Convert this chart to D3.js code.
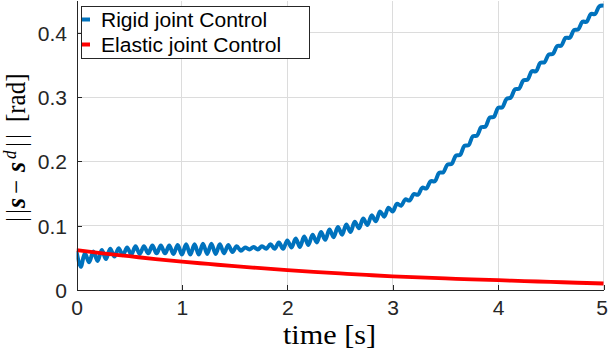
<!DOCTYPE html>
<html><head><meta charset="utf-8">
<script src="https://cdn.jsdelivr.net/npm/d3@7"></script>
<style>html,body{margin:0;padding:0;background:#fff}svg{display:block}</style>
</head><body>
<svg id="chart" width="608" height="354"></svg>
<script>
// ---- data ----
const rigidTimeStep = 0.04; // seconds between samples, t = 0 ... 5
const rigidValues = [
0.060,0.036,0.057,0.043,0.060,0.045,0.062,0.048,0.064,0.052,
0.065,0.054,0.066,0.055,0.068,0.056,0.068,0.057,0.069,0.057,
0.069,0.057,0.069,0.056,0.070,0.055,0.071,0.055,0.071,0.055,
0.072,0.056,0.072,0.056,0.071,0.057,0.070,0.059,0.068,0.061,
0.066,0.063,0.067,0.063,0.068,0.064,0.071,0.064,0.074,0.064,
0.077,0.066,0.080,0.067,0.083,0.070,0.086,0.074,0.090,0.078,
0.094,0.082,0.098,0.086,0.102,0.090,0.106,0.096,0.111,0.101,
0.116,0.107,0.122,0.114,0.128,0.122,0.134,0.131,0.141,0.139,
0.149,0.148,0.159,0.158,0.169,0.169,0.182,0.183,0.195,0.196,
0.209,0.210,0.224,0.225,0.239,0.240,0.253,0.254,0.268,0.269,
0.283,0.284,0.297,0.299,0.312,0.313,0.326,0.327,0.340,0.340,
0.353,0.354,0.366,0.367,0.379,0.380,0.392,0.392,0.404,0.405,
0.417,0.417,0.429,0.429,0.441,0.442
];
const elasticTimes = [0,0.25,0.5,0.75,1,1.25,1.5,1.75,2,2.25,2.5,2.75,3,3.25,3.5,3.75,4,4.25,4.5,4.75,5];
const elasticValues = [0.0620,0.0570,0.0525,0.0480,0.0440,0.0405,0.0370,0.0340,0.0310,0.0283,0.0258,0.0234,0.0212,0.0195,0.0180,0.0165,0.0152,0.0139,0.0126,0.0113,0.0101];
const seriesNames = ["Rigid joint Control","Elastic joint Control"];
const seriesColors = ["#0072BD","#FF0000"];
const xTicks = [0,1,2,3,4,5];
const yTicks = [0,0.1,0.2,0.3,0.4];
const xDomain = [0,5];
const yDomain = [0,0.45];
const xLabel = "time [s]";

// ---- layout ----
const X0 = 76.5, X1 = 603.5, Y0 = 290, Y1 = 0.5;
const axisColor = "#262626", gridColor = "#dcdcdc";
const sx = 1.08; // horizontal text stretch of the original figure

const svg = d3.select("#chart");
const x = d3.scaleLinear().domain(xDomain).range([X0, X1]);
const y = d3.scaleLinear().domain(yDomain).range([Y0, Y1]);

// grid
const grid = svg.append("g").attr("shape-rendering","crispEdges");
grid.selectAll("line.gx").data(xTicks.filter(d=>d>0)).join("line")
  .attr("x1",d=>x(d)).attr("x2",d=>x(d)).attr("y1",Y1).attr("y2",Y0)
  .attr("stroke",gridColor).attr("stroke-width",1);
grid.selectAll("line.gy").data(yTicks.filter(d=>d>0)).join("line")
  .attr("x1",X0).attr("x2",X1+0.5).attr("y1",d=>y(d)).attr("y2",d=>y(d))
  .attr("stroke",gridColor).attr("stroke-width",1);

// clip
svg.append("clipPath").attr("id","clip").append("rect")
  .attr("x",X0).attr("y",0).attr("width",X1-X0+1).attr("height",Y0);

const rigid = rigidValues.map((v,i)=>({t:i*rigidTimeStep, v}));
const elastic = elasticValues.map((v,i)=>({t:elasticTimes[i], v}));

const line = d3.line().x(d=>x(d.t)).y(d=>y(d.v)).curve(d3.curveCatmullRom.alpha(0.5));
const lineLin = d3.line().x(d=>x(d.t)).y(d=>y(d.v)).curve(d3.curveMonotoneX);

const plot = svg.append("g").attr("clip-path","url(#clip)");
plot.append("path").datum(rigid).attr("d",line)
  .attr("fill","none").attr("stroke",seriesColors[0]).attr("stroke-width",4)
  .attr("stroke-linejoin","round");
plot.append("path").datum(elastic).attr("d",lineLin)
  .attr("fill","none").attr("stroke",seriesColors[1]).attr("stroke-width",3.8);

// axes
function stretchLabels(g, lastShift){
  const texts = g.selectAll(".tick text");
  const n = texts.size();
  texts.each(function(d,i){
    const t = d3.select(this);
    let tx = +t.attr("x") || 0;
    const ty = +t.attr("y") || 0;
    if (lastShift && i === n-1) tx += lastShift;
    t.attr("x",0).attr("y",0)
     .attr("transform",`translate(${tx},${ty}) scale(${sx},1)`);
  });
}
const yAxis = d3.axisLeft(y).tickValues(yTicks).tickFormat(d=>d===0?"0":d3.format(".1f")(d))
  .tickSizeInner(-5).tickSizeOuter(0).tickPadding(9.5);
const gy = svg.append("g").attr("transform",`translate(${X0},0)`).call(yAxis);
gy.selectAll(".tick text").attr("dy","0.38em");
stretchLabels(gy, 0);

const xAxis = d3.axisBottom(x).tickValues(xTicks).tickFormat(d3.format("d"))
  .tickSizeInner(-5).tickSizeOuter(0).tickPadding(11.5);
const gx = svg.append("g").attr("transform",`translate(0,${Y0})`).call(xAxis);
stretchLabels(gx, -2);

[gx,gy].forEach(g=>{
  g.selectAll("path.domain").attr("stroke",axisColor).attr("stroke-width",1).attr("shape-rendering","crispEdges");
  g.selectAll(".tick line").attr("stroke",axisColor).attr("shape-rendering","crispEdges");
  g.selectAll(".tick text").attr("fill",axisColor)
    .attr("font-family","'Liberation Sans', Arial, sans-serif").attr("font-size","19.5px");
});

// x label
svg.append("text").attr("transform","translate(329.5,344) scale(1.12,1)")
  .attr("text-anchor","middle").attr("font-family","'Liberation Serif', 'Times New Roman', serif")
  .attr("font-size","27px").attr("fill","#000").text(xLabel);

// y label pieces (rotated)
const yl = svg.append("g").attr("transform","translate(25,222) rotate(-90) scale(1,1.08)")
  .attr("font-family","'Liberation Serif', 'Times New Roman', serif").attr("font-size","25px").attr("fill","#000");
yl.append("text").attr("x",0).attr("letter-spacing","3px").text("||");
yl.append("text").attr("x",14).attr("font-weight","bold").attr("font-style","italic").attr("font-size","26px").text("s");
yl.append("text").attr("x",28).text("\u2212");
yl.append("text").attr("x",50).attr("font-weight","bold").attr("font-style","italic").attr("font-size","26px").text("s");
yl.append("text").attr("x",63).attr("y",-8).attr("font-size","17px").attr("font-style","italic").text("d");
yl.append("text").attr("x",75).attr("letter-spacing","3px").text("||");
yl.append("text").attr("x",100).text("[rad]");

// legend
const lg = svg.append("g");
lg.append("rect").attr("x",81.5).attr("y",6.5).attr("width",227.5).attr("height",51.5)
  .attr("fill","#fff").attr("stroke",axisColor).attr("stroke-width",1).attr("shape-rendering","crispEdges");
const lgY = [19.5, 44.5], lgBase = [26.5, 52];
seriesNames.forEach((name,i)=>{
  lg.append("line").attr("x1",82).attr("x2",90).attr("y1",lgY[i]).attr("y2",lgY[i])
    .attr("stroke",seriesColors[i]).attr("stroke-width",4);
  lg.append("text").attr("transform",`translate(101,${lgBase[i]}) scale(${sx},1)`)
    .attr("font-family","'Liberation Sans', Arial, sans-serif").attr("font-size","19.5px")
    .attr("fill","#000").text(name);
});
</script>
</body></html>
